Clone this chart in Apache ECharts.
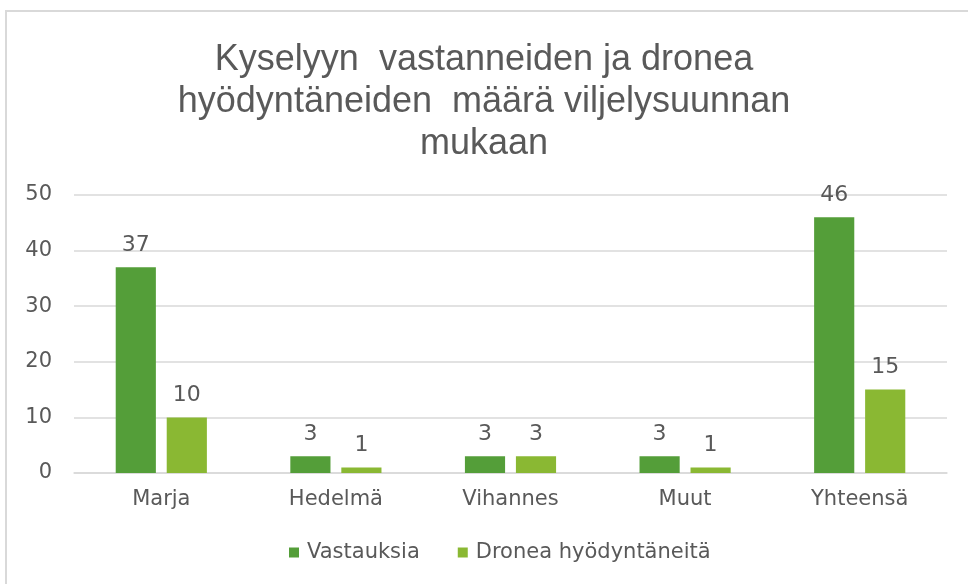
<!DOCTYPE html>
<html>
<head>
<meta charset="utf-8">
<script src="https://cdn.jsdelivr.net/npm/echarts@6/dist/echarts.min.js"></script>
<style>
html,body{margin:0;padding:0;background:#fff;}
#frame{position:absolute;left:5px;top:10px;width:1000px;height:600px;border:2px solid #d9d9d9;box-sizing:border-box;}
#chart{position:absolute;left:0;top:0;width:968px;height:584px;}
</style>
</head>
<body>
<div id="frame"></div>
<div id="chart"></div>
<script>
const categories = ['Marja', 'Hedelmä', 'Vihannes', 'Muut', 'Yhteensä'];
const vastauksia = [37, 3, 3, 3, 46];
const dronea = [10, 1, 3, 1, 15];
const yTicks = { min: 0, max: 50, interval: 10 };
const seriesNames = ['Vastauksia', 'Dronea hyödyntäneitä'];
const titleText = 'Kyselyyn  vastanneiden ja dronea\nhyödyntäneiden  määrä viljelysuunnan\nmukaan';

const chart = echarts.init(document.getElementById('chart'));
const textColor = '#595959';
const font = 'DejaVu Sans, Liberation Sans, sans-serif';
const labelStyle = { show: true, position: 'top', distance: 11, color: textColor, fontSize: 22, fontFamily: font };
chart.setOption({
  animation: false,
  title: {
    text: titleText,
    left: 'center',
    top: 34,
    textStyle: { color: textColor, fontSize: 36, fontWeight: 'normal', lineHeight: 42, fontFamily: 'Liberation Sans, Arial, sans-serif' }
  },
  legend: {
    top: 537,
    left: 284,
    itemWidth: 10,
    itemHeight: 10,
    itemGap: 38,
    icon: 'rect',
    textStyle: { color: textColor, fontSize: 21, fontFamily: font, padding: [0,0,0,3] },
    data: seriesNames
  },
  grid: { left: 74, right: 21, top: 195, bottom: 111, containLabel: false },
  xAxis: {
    type: 'category',
    data: categories,
    axisLine: { lineStyle: { color: '#d9d9d9', width: 1.5 } },
    axisTick: { show: false },
    axisLabel: { color: textColor, fontSize: 21, margin: 16, fontFamily: font }
  },
  yAxis: {
    type: 'value',
    min: yTicks.min, max: yTicks.max, interval: yTicks.interval,
    axisLine: { show: false },
    axisTick: { show: false },
    splitLine: { lineStyle: { color: '#d9d9d9', width: 1.5 } },
    axisLabel: { color: textColor, fontSize: 21, margin: 22, fontFamily: font }
  },
  series: [
    { name: seriesNames[0], type: 'bar', data: vastauksia, barWidth: '23%', barGap: '27%', itemStyle: { color: '#549E39' }, label: labelStyle },
    { name: seriesNames[1], type: 'bar', data: dronea, barWidth: '23%', itemStyle: { color: '#8AB833' }, label: labelStyle }
  ]
});
</script>
</body>
</html>
